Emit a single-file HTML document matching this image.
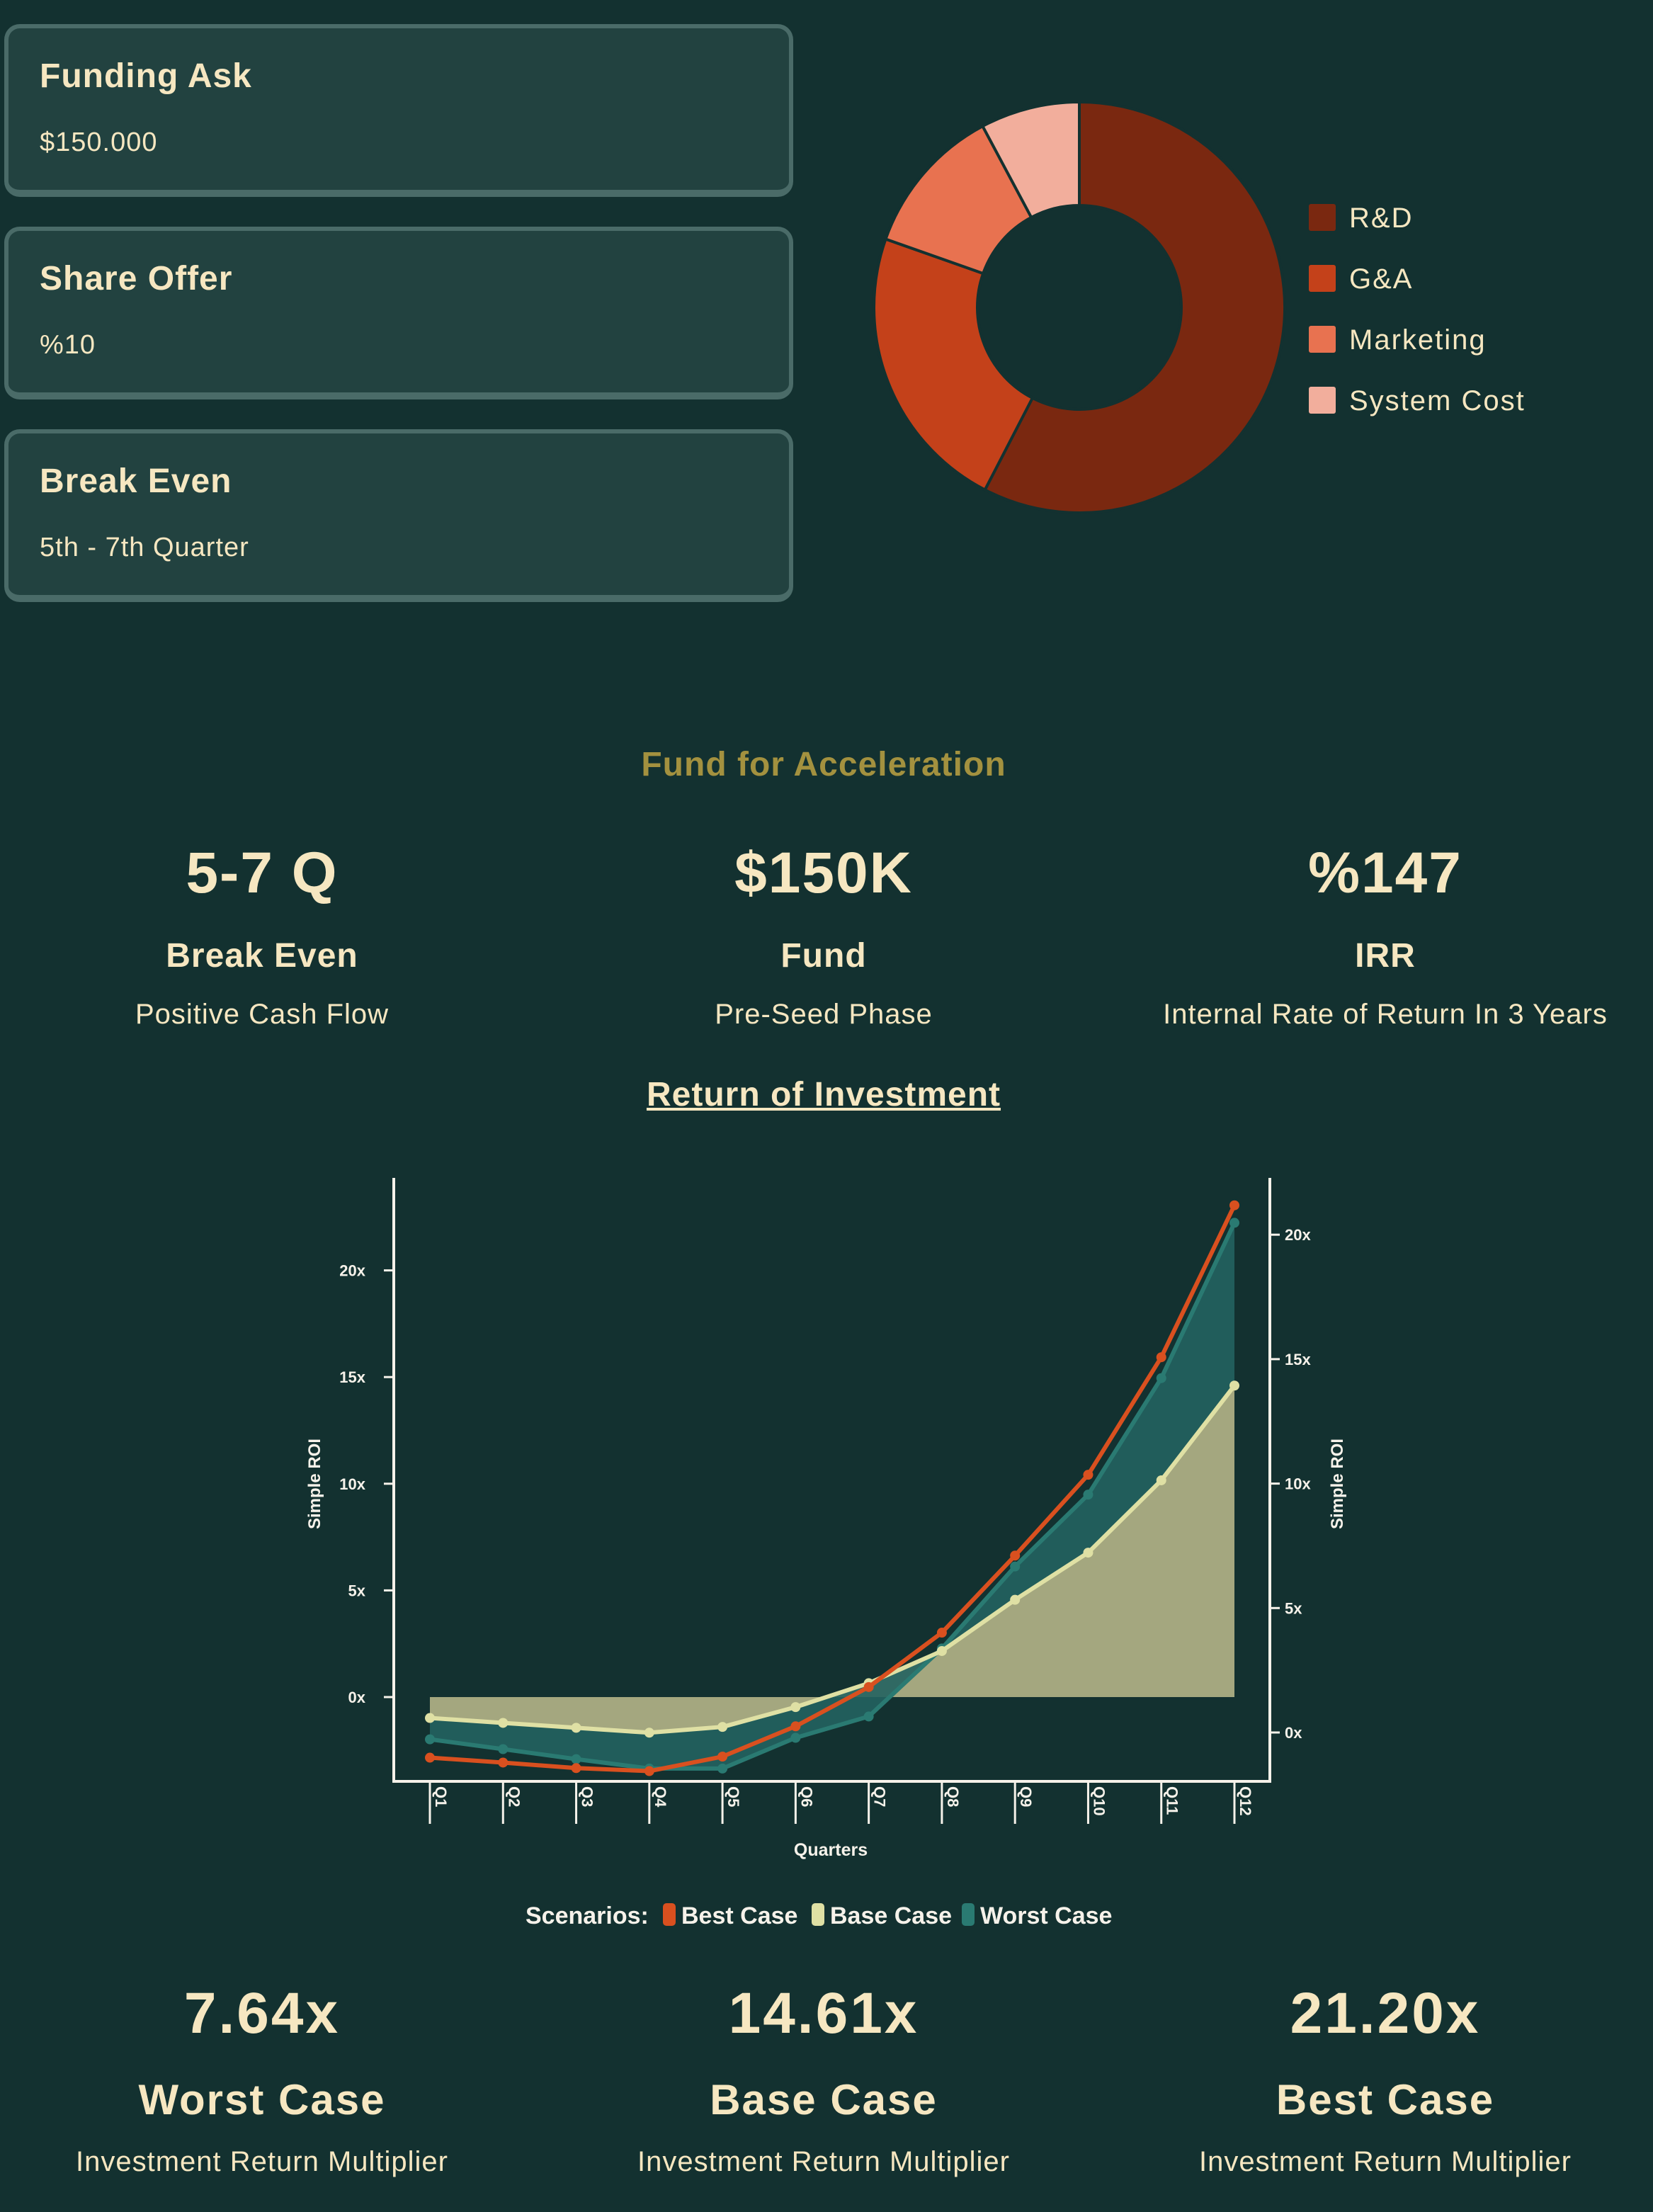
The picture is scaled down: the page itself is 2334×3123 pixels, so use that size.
<!DOCTYPE html>
<html><head><meta charset="utf-8">
<style>
body{margin:0;width:2334px;height:3123px;background:#133130;overflow:hidden;font-family:"Liberation Sans",sans-serif;color:#f6e7c1;position:relative}
.card{position:absolute;left:6px;width:1102px;height:228px;background:#224240;border:6px solid #4a6b68;border-bottom-width:10px;border-radius:22px}
.card .t{position:absolute;left:44px;top:40px;font-size:48px;font-weight:bold;letter-spacing:1px}
.card .v{position:absolute;left:44px;top:140px;font-size:38px;letter-spacing:1px}
.c{position:absolute;text-align:center;width:800px;transform:translateX(-50%)}
</style></head><body>
<div class="card" style="top:34px"><div class="t">Funding Ask</div><div class="v">$150.000</div></div>
<div class="card" style="top:320px"><div class="t">Share Offer</div><div class="v">%10</div></div>
<div class="card" style="top:606px"><div class="t">Break Even</div><div class="v">5th - 7th Quarter</div></div>

<svg id="donut" width="2334" height="880" style="position:absolute;left:0;top:0"></svg>

<div class="c" style="left:1163px;top:1052px;font-size:48px;font-weight:bold;color:#a3913f;letter-spacing:1px">Fund for Acceleration</div>

<div class="c" style="left:370px;top:1186px;font-size:82px;font-weight:bold;letter-spacing:2px">5-7 Q</div>
<div class="c" style="left:1163px;top:1186px;font-size:82px;font-weight:bold;letter-spacing:2px">$150K</div>
<div class="c" style="left:1956px;top:1186px;font-size:82px;font-weight:bold;letter-spacing:2px">%147</div>
<div class="c" style="left:370px;top:1322px;font-size:48px;font-weight:bold;letter-spacing:1px">Break Even</div>
<div class="c" style="left:1163px;top:1322px;font-size:48px;font-weight:bold;letter-spacing:1px">Fund</div>
<div class="c" style="left:1956px;top:1322px;font-size:48px;font-weight:bold;letter-spacing:1px">IRR</div>
<div class="c" style="left:370px;top:1410px;font-size:40px;letter-spacing:1px">Positive Cash Flow</div>
<div class="c" style="left:1163px;top:1410px;font-size:40px;letter-spacing:1px">Pre-Seed Phase</div>
<div class="c" style="left:1956px;top:1410px;font-size:40px;letter-spacing:1px;width:900px">Internal Rate of Return In 3 Years</div>

<div class="c" style="left:1163px;top:1518px;font-size:48px;font-weight:bold;text-decoration:underline;letter-spacing:1px">Return of Investment</div>

<svg id="chart" width="2334" height="1140" style="position:absolute;left:0;top:1640px"></svg>

<div class="c" style="left:370px;top:2796px;font-size:82px;font-weight:bold;letter-spacing:3px">7.64x</div>
<div class="c" style="left:1163px;top:2796px;font-size:82px;font-weight:bold;letter-spacing:3px">14.61x</div>
<div class="c" style="left:1956px;top:2796px;font-size:82px;font-weight:bold;letter-spacing:3px">21.20x</div>
<div class="c" style="left:370px;top:2930px;font-size:60px;font-weight:bold;letter-spacing:2px">Worst Case</div>
<div class="c" style="left:1163px;top:2930px;font-size:60px;font-weight:bold;letter-spacing:2px">Base Case</div>
<div class="c" style="left:1956px;top:2930px;font-size:60px;font-weight:bold;letter-spacing:2px">Best Case</div>
<div class="c" style="left:370px;top:3030px;font-size:40px;letter-spacing:1px">Investment Return Multiplier</div>
<div class="c" style="left:1163px;top:3030px;font-size:40px;letter-spacing:1px">Investment Return Multiplier</div>
<div class="c" style="left:1956px;top:3030px;font-size:40px;letter-spacing:1px">Investment Return Multiplier</div>

<script>
const NS="http://www.w3.org/2000/svg";
function mk(p,t,a){const e=document.createElementNS(NS,t);for(const k in a)e.setAttribute(k,a[k]);p.appendChild(e);return e;}

// Donut data
const sliceLabels=["R&D","G&A","Marketing","System Cost"];
const sliceValues=[57.6,22.8,11.8,7.8];
const sliceColors=["#7a2810","#c4411a","#e87250","#f2ae9c"];
const d=document.getElementById('donut');
const cx=1524,cy=434,R=290,r=144;
const tot=sliceValues.reduce((a,b)=>a+b,0);
let a0=0;
sliceValues.forEach((v,i)=>{
  const a1=a0+v/tot*2*Math.PI;
  const p=(ang,rad)=>[cx+rad*Math.sin(ang),cy-rad*Math.cos(ang)];
  const [x0,y0]=p(a0,R),[x1,y1]=p(a1,R),[x2,y2]=p(a1,r),[x3,y3]=p(a0,r);
  const lg=(a1-a0)>Math.PI?1:0;
  const s=mk(d,'path',{d:`M${x0},${y0}A${R},${R} 0 ${lg} 1 ${x1},${y1}L${x2},${y2}A${r},${r} 0 ${lg} 0 ${x3},${y3}Z`,fill:sliceColors[i],stroke:"#133130","stroke-width":4});
  
  
  const ly=307+i*86;
  const sq=mk(d,'rect',{x:1848,y:ly-19,width:38,height:38,rx:3,fill:sliceColors[i]});
  
  
  const t=mk(d,'text',{x:1905,y:ly+14,'font-size':40,fill:"#f6e7c1",'letter-spacing':2,'font-family':'Liberation Sans, sans-serif'});
  t.textContent=sliceLabels[i];
  
  
  a0=a1;
});

// ROI chart data
const quarters=["Q1","Q2","Q3","Q4","Q5","Q6","Q7","Q8","Q9","Q10","Q11","Q12"];
const bestCase=[-2.84,-3.07,-3.33,-3.47,-2.79,-1.37,0.47,3.02,6.63,10.42,15.93,23.05];
const baseCase=[-0.98,-1.21,-1.44,-1.67,-1.40,-0.47,0.65,2.16,4.56,6.77,10.16,14.6];
const worstCase=[-1.98,-2.44,-2.91,-3.35,-3.35,-1.91,-0.91,2.28,6.12,9.49,14.95,22.23];
const leftTicks=[0,5,10,15,20];
const rightTicks=[0,5,10,15,20];

const c=document.getElementById('chart');
const OY=1640;
const X=i=>607+i*((1743-607)/11);
const Y=v=>2396-OY-v*30.12;
const YR=v=>2446-OY-v*35.14;
const ax="#f6f2ea";
const F='Liberation Sans Narrow, Liberation Sans, sans-serif';
let pts=baseCase.map((v,i)=>X(i)+','+Y(v)).join(' ');
const ba=mk(c,'polygon',{points:`${X(0)},${Y(0)} ${pts} ${X(11)},${Y(0)}`,fill:"#a4a77f"});


const wpts=worstCase.map((v,i)=>X(i)+','+Y(v)).join(' ');
const bpr=baseCase.map((v,i)=>X(i)+','+Y(v)).reverse().join(' ');
const wa=mk(c,'polygon',{points:wpts+' '+bpr,fill:"#236360",opacity:0.9});


function line(arr,col,name){
  const l=mk(c,'polyline',{points:arr.map((v,i)=>X(i)+','+Y(v)).join(' '),fill:'none',stroke:col,'stroke-width':6,'stroke-linejoin':'round'});
  
  
  arr.forEach((v,i)=>{
    const p=mk(c,'circle',{cx:X(i),cy:Y(v),r:7,fill:col});
    
    
  });
}
line(worstCase,"#2a7a72","worst-case");
line(baseCase,"#dfe0a4","base-case");
line(bestCase,"#d9501f","best-case");
const al=mk(c,'line',{x1:556,y1:1663-OY,x2:556,y2:2515-OY,stroke:ax,'stroke-width':4});

const ar=mk(c,'line',{x1:1793,y1:1663-OY,x2:1793,y2:2515-OY,stroke:ax,'stroke-width':4});

const axb=mk(c,'line',{x1:554,y1:2515-OY,x2:1795,y2:2515-OY,stroke:ax,'stroke-width':4});

leftTicks.forEach(v=>{
  mk(c,'line',{x1:542,y1:Y(v),x2:556,y2:Y(v),stroke:ax,'stroke-width':3});
  const t=mk(c,'text',{x:516,y:Y(v)+8,'text-anchor':'end','font-size':22,'font-weight':'bold',fill:ax,'font-family':F});
  t.textContent=v+'x';
  
  
});
rightTicks.forEach(v=>{
  mk(c,'line',{x1:1793,y1:YR(v),x2:1807,y2:YR(v),stroke:ax,'stroke-width':3});
  const t=mk(c,'text',{x:1814,y:YR(v)+8,'font-size':22,'font-weight':'bold',fill:ax,'font-family':F});
  t.textContent=v+'x';
  
  
});
quarters.forEach((q,i)=>{
  mk(c,'line',{x1:X(i),y1:2515-OY,x2:X(i),y2:2575-OY,stroke:ax,'stroke-width':3});
  const t=mk(c,'text',{x:0,y:0,transform:`translate(${X(i)+8},${2522-OY}) rotate(90)`,'font-size':22,'font-weight':'bold',fill:ax,'font-family':F});
  t.textContent=q;
  
  
});
let t=mk(c,'text',{x:1173,y:2620-OY,'text-anchor':'middle','font-size':25,'font-weight':'bold',fill:ax,'font-family':F});
t.textContent='Quarters';

t=mk(c,'text',{transform:`translate(452,${2095-OY}) rotate(-90)`,'text-anchor':'middle','font-size':24,'font-weight':'bold',fill:ax,'font-family':F});
t.textContent='Simple ROI';

t=mk(c,'text',{transform:`translate(1896,${2095-OY}) rotate(-90)`,'text-anchor':'middle','font-size':24,'font-weight':'bold',fill:ax,'font-family':F});
t.textContent='Simple ROI';

const lgY=2716-OY;
t=mk(c,'text',{x:742,y:lgY,'font-size':34,'font-weight':'bold',fill:ax,'font-family':F});
t.textContent='Scenarios:';

const legItems=[["Best Case","#d9501f",936],["Base Case","#dfe0a4",1146],["Worst Case","#2a7a72",1358]];
legItems.forEach(([n,col,x])=>{
  const s=mk(c,'rect',{x:x,y:lgY-29,width:18,height:32,rx:5,fill:col});
  
  const tt=mk(c,'text',{x:x+26,y:lgY,'font-size':34,'font-weight':'bold',fill:ax,'font-family':F});
  tt.textContent=n;
  
});
</script>
</body></html>
